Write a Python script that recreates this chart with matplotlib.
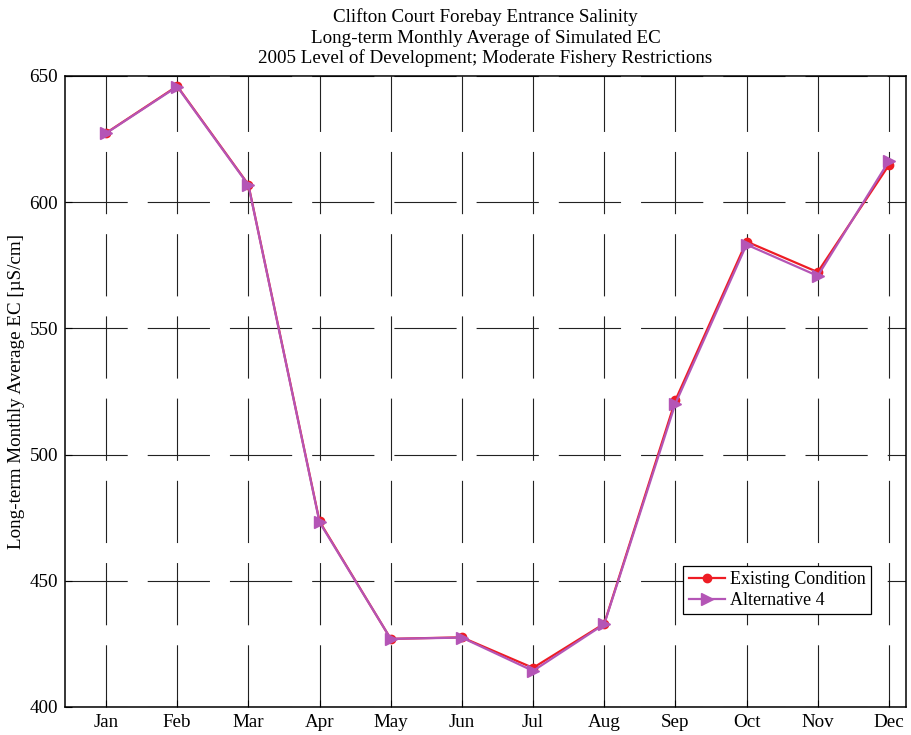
import matplotlib
matplotlib.use('Agg')
import matplotlib.pyplot as plt

months = ['Jan', 'Feb', 'Mar', 'Apr', 'May', 'Jun',
          'Jul', 'Aug', 'Sep', 'Oct', 'Nov', 'Dec']
existing = [627.4, 646.0, 607.0, 473.5, 427.0, 427.6,
            415.5, 433.0, 521.5, 584.4, 572.3, 614.7]
alt4 = [627.3, 645.8, 606.8, 473.2, 427.0, 427.5,
        414.3, 432.8, 520.2, 583.2, 570.8, 616.3]
yticks = [400, 450, 500, 550, 600, 650]

plt.rcParams.update({'font.size': 13.7,
                     'font.family': 'Liberation Serif',
                     'xtick.direction': 'in',
                     'ytick.direction': 'in'})

fig = plt.figure(figsize=(9.12, 7.35), dpi=100)
ax = fig.add_axes([0.0713, 0.0381, 0.9221, 0.8585])

x = list(range(1, 13))
ax.plot(x, existing, '-o', color='#ee1c24', markersize=6, linewidth=1.6,
        label='Existing Condition', zorder=3)
ax.plot(x, alt4, '->', color='#b455b6', markersize=8, linewidth=1.6,
        label='Alternative 4', zorder=4)

ax.set_xlim(0.424, 12.24)
ax.set_ylim(400, 650)
ax.set_xticks(x)
ax.set_xticklabels(months)
ax.set_yticks(yticks)
ax.tick_params(length=5, width=0.8, pad=5, top=False, right=False)
ax.grid(True, color='#222222', linestyle=(0, (56, 18)), linewidth=0.8)
for s in ax.spines.values():
    s.set_linewidth(1.1)

ax.set_ylabel('Long-term Monthly Average EC [\u00b5S/cm]', labelpad=3)
ax.set_title('Clifton Court Forebay Entrance Salinity\n'
             'Long-term Monthly Average of Simulated EC\n'
             '2005 Level of Development; Moderate Fishery Restrictions',
             fontsize=13.7, linespacing=1.2, pad=9)

leg = ax.legend(loc='lower left', bbox_to_anchor=(0.735, 0.147),
                fontsize=13, fancybox=False, framealpha=1,
                edgecolor='black', borderpad=0.3, handlelength=2.0,
                handletextpad=0.3, labelspacing=0.2, borderaxespad=0)
leg.get_frame().set_linewidth(0.9)

fig.savefig('out.png', dpi=100)
